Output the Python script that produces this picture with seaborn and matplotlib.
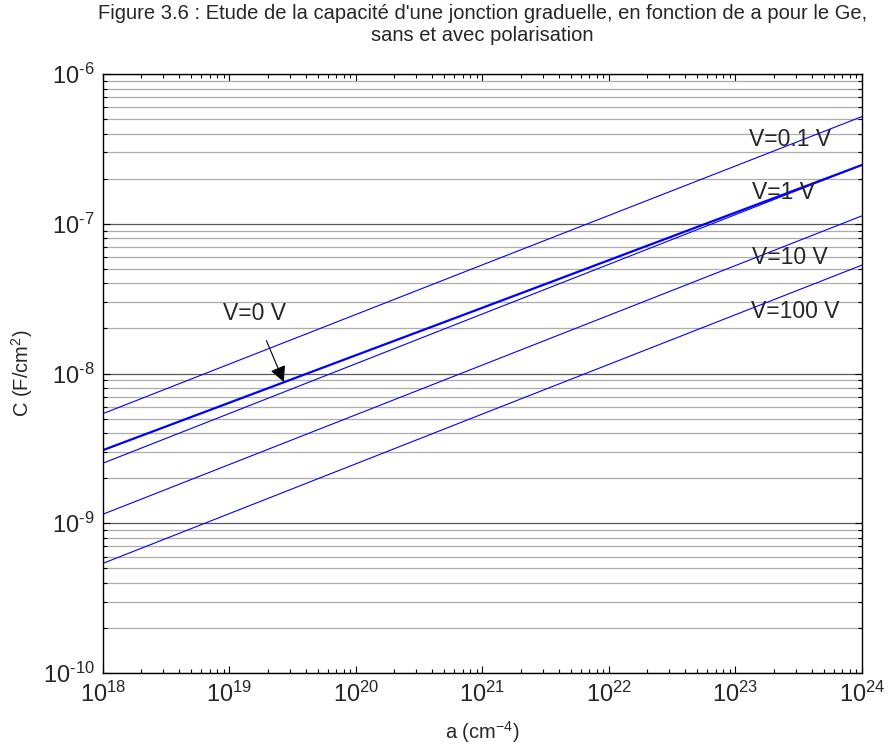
import numpy as np
import pandas as pd
import matplotlib
matplotlib.use('Agg')
import matplotlib.pyplot as plt
import seaborn as sns
from matplotlib.ticker import LogLocator, NullFormatter, FuncFormatter

# data (C in F/cm2 at a = 1e18, 1e21, 1e24 cm-4)
a_vals = [1e18, 1e21, 1e24]
c_v0 = [3.08e-9, 2.75e-8, 2.47e-7]
c_v01 = [5.4e-9, 5.32e-8, 5.2e-7]
c_v1 = [2.52e-9, 2.5e-8, 2.47e-7]
c_v10 = [1.15e-9, 1.14e-8, 1.13e-7]
c_v100 = [5.4e-10, 5.37e-9, 5.3e-8]

x_ticks = [1e18, 1e19, 1e20, 1e21, 1e22, 1e23, 1e24]
y_ticks = [1e-10, 1e-9, 1e-8, 1e-7, 1e-6]

series = {'V=0 V': c_v0, 'V=0.1 V': c_v01, 'V=1 V': c_v1,
          'V=10 V': c_v10, 'V=100 V': c_v100}
rows = []
for name, vals in series.items():
    for a, c in zip(a_vals, vals):
        rows.append({'a': a, 'C': c, 'V': name})
df = pd.DataFrame(rows)

sns.set_style('white')
plt.rcParams['font.family'] = ['Liberation Sans', 'DejaVu Sans']
plt.rcParams['mathtext.fontset'] = 'custom'
plt.rcParams['mathtext.rm'] = 'Liberation Sans'
plt.rcParams['mathtext.it'] = 'Liberation Sans'
plt.rcParams['mathtext.default'] = 'regular'

fig = plt.figure(figsize=(8.9, 7.47), dpi=100)
ax = fig.add_axes([0.1157, 0.099, 0.8528, 0.8019])

for name in series:
    sub = df[df['V'] == name]
    lw = 1.6 if name == 'V=0 V' else 0.8
    sns.lineplot(data=sub, x='a', y='C', ax=ax, color='#0000ff', linewidth=lw, legend=False)

ax.set_xscale('log')
ax.set_yscale('log')
ax.set_xlim(1e18, 1e24)
ax.set_ylim(1e-10, 1e-6)

def pow_fmt(v, pos):
    e = int(round(np.log10(v)))
    return '$10^{\\text{%d}}$' % e

ax.set_xticks(x_ticks)
ax.set_yticks(y_ticks)
ax.xaxis.set_major_formatter(FuncFormatter(pow_fmt))
ax.yaxis.set_major_formatter(FuncFormatter(pow_fmt))
ax.yaxis.set_minor_locator(LogLocator(base=10, subs=np.arange(2, 10), numticks=20))
ax.xaxis.set_minor_locator(LogLocator(base=10, subs=np.arange(2, 10), numticks=20))
ax.xaxis.set_minor_formatter(NullFormatter())
ax.yaxis.set_minor_formatter(NullFormatter())

ax.grid(False)
ax.yaxis.grid(True, which='major', color='0.35', linewidth=0.9)
ax.yaxis.grid(True, which='minor', color='0.68', linewidth=0.9)
ax.set_axisbelow(True)

ax.tick_params(axis='both', which='both', direction='in', top=True, right=True,
               bottom=True, left=True, color='black')
ax.tick_params(which='major', length=5, width=0.8, labelsize=17, pad=6)
ax.tick_params(which='minor', length=3, width=0.8)

for s in ax.spines.values():
    s.set_color('black')
    s.set_linewidth(1.0)

ax.set_xlabel('a (cm$^{-4}$)', fontsize=14.5, labelpad=9)
ax.set_ylabel('C (F/cm$^{2}$)', fontsize=14.5, labelpad=6)
ax.set_title("Figure 3.6 : Etude de la capacité d'une jonction graduelle, en fonction de a pour le Ge,\nsans et avec polarisation",
             fontsize=14.5, pad=24, linespacing=1.2)

lab_kw = dict(fontsize=16.5, ha='center', va='center')
ax.text(10**23.43, 10**-6.434, 'V=0.1 V', **lab_kw)
ax.text(10**23.38, 10**-6.788, 'V=1 V', **lab_kw)
ax.text(10**23.43, 10**-7.222, 'V=10 V', **lab_kw)
ax.text(10**23.47, 10**-7.589, 'V=100 V', **lab_kw)
ax.annotate('V=0 V', xy=(10**19.43, 10**-8.057), xytext=(10**19.20, 10**-7.596),
            fontsize=16.5, ha='center', va='center',
            arrowprops=dict(arrowstyle='-|>', color='black', lw=0.8,
                            mutation_scale=24, shrinkA=10, shrinkB=0))

fig.savefig('out.png', dpi=100)
